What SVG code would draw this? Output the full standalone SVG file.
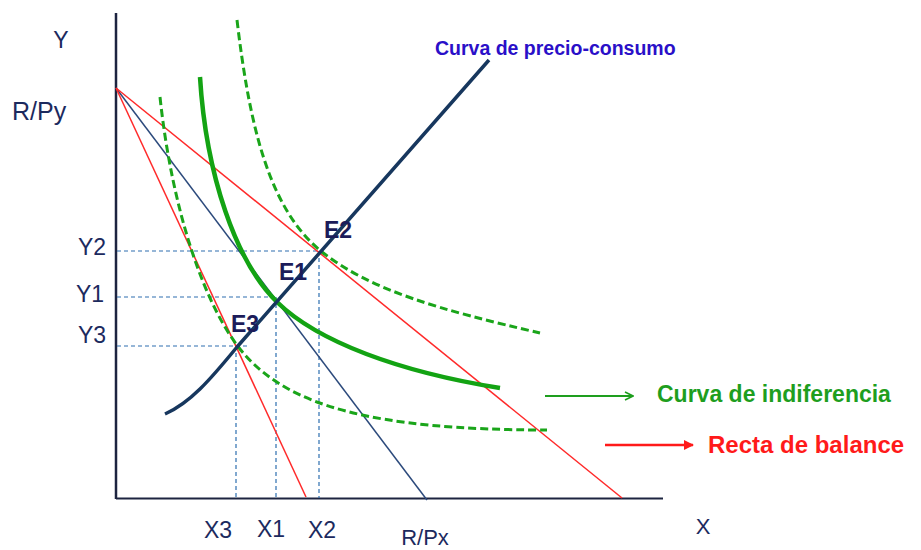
<svg xmlns="http://www.w3.org/2000/svg" width="921" height="550" viewBox="0 0 921 550">
<defs>
<style>
.lbl{font-family:"Liberation Sans",Arial,sans-serif;font-size:23px;fill:#1c2a5e}
.e{font-family:"Liberation Sans",Arial,sans-serif;font-size:23px;font-weight:bold;fill:#1c1c5a}
.ref{stroke:#2e6fb0;stroke-width:1.2;stroke-dasharray:4 3;fill:none}
.bud{stroke:#ff2a2a;stroke-width:1.5;fill:none}
.ind{stroke:#1aa51a;stroke-width:3;fill:none;stroke-dasharray:8 4}
</style>
<marker id="ag" viewBox="0 0 10 10" refX="9" refY="5" markerWidth="5" markerHeight="5" orient="auto" markerUnits="strokeWidth"><path d="M1,1 L9,5 L1,9" fill="none" stroke="#1e9e1e" stroke-width="1.6"/></marker>
<marker id="ar" viewBox="0 0 10 10" refX="9" refY="5" markerWidth="4" markerHeight="4" orient="auto" markerUnits="strokeWidth"><path d="M0,0 L10,5 L0,10 Z" fill="#ff1a1a"/></marker>
</defs>
<rect width="921" height="550" fill="#fff"/>
<g id="axes">
<line x1="116" y1="13" x2="116" y2="499" stroke="#1d2440" stroke-width="2.5"/>
<line x1="116" y1="498.5" x2="663" y2="498.5" stroke="#1d2440" stroke-width="2"/>
</g>
<g id="connectors">
<path class="ref" d="M117,251 H320 M117,297 H277 M117,346 H249 M236,346 V498 M276,297 V498 M319,251 V498"/>
<line x1="116" y1="88" x2="427" y2="500" stroke="#2c4a7c" stroke-width="1.5"/>
<line class="bud" x1="116" y1="88" x2="306" y2="497"/>
<line class="bud" x1="116" y1="88" x2="622" y2="498"/>
<path class="ind" d="M160,97 C172,210 205,310 245,355 C290,405 370,430 547,430"/>
<path class="ind" d="M237,20 C250,130 270,210 322,252 C370,290 440,310 540,333"/>
<path d="M200,77 C206,175 236,262 277,302 C318,342 400,372 500,388" fill="none" stroke="#13a313" stroke-width="4.5"/>
<path d="M165,414 C190,403 210,380 237,347 L489,60" fill="none" stroke="#17375e" stroke-width="3.5"/>
<line x1="545" y1="396" x2="633" y2="396" stroke="#1e9e1e" stroke-width="2" marker-end="url(#ag)"/>
<line x1="605" y1="445" x2="693" y2="445" stroke="#ff1a1a" stroke-width="2.5" marker-end="url(#ar)"/>
</g>
<g id="labels">
<text class="lbl" x="61" y="48" text-anchor="middle" font-size="22">Y</text>
<text class="lbl" x="12" y="120" style="font-size:25px">R/Py</text>
<text class="lbl" x="92" y="255" text-anchor="middle">Y2</text>
<text class="lbl" x="90" y="302" text-anchor="middle">Y1</text>
<text class="lbl" x="92" y="343" text-anchor="middle">Y3</text>
<text class="lbl" x="218" y="538" text-anchor="middle">X3</text>
<text class="lbl" x="271" y="537" text-anchor="middle">X1</text>
<text class="lbl" x="322" y="538" text-anchor="middle">X2</text>
<text class="lbl" x="425" y="545" text-anchor="middle" style="font-size:22px">R/Px</text>
<text class="lbl" x="703" y="534" text-anchor="middle" style="font-size:22px">X</text>
<text class="e" x="338" y="238" text-anchor="middle">E2</text>
<text class="e" x="293" y="280" text-anchor="middle">E1</text>
<text class="e" x="245" y="332" text-anchor="middle">E3</text>
<text x="435" y="55" font-family="Liberation Sans,Arial,sans-serif" font-size="19.5" font-weight="bold" fill="#2a0fc8">Curva de precio-consumo</text>
<text x="657" y="402" font-family="Liberation Sans,Arial,sans-serif" font-size="23" font-weight="bold" fill="#1e9e1e">Curva de indiferencia</text>
<text x="708" y="453" font-family="Liberation Sans,Arial,sans-serif" font-size="24" font-weight="bold" fill="#ff1a1a">Recta de balance</text>
</g>
</svg>
